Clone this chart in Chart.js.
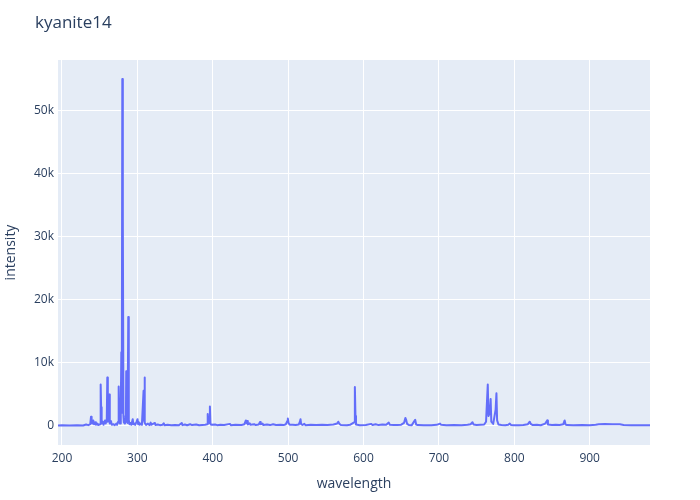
<!DOCTYPE html>
<html>
<head>
<meta charset="utf-8">
<script src="https://cdn.jsdelivr.net/npm/chart.js@4"></script>
<style>
  body { margin: 0; background: #fff; }
  #wrap { width: 700px; height: 500px; }
</style>
</head>
<body>
<div id="wrap"><canvas id="myChart" width="700" height="500"></canvas></div>
<script>
const chartTitle = "kyanite14";
const xTitle = "wavelength";
const yTitle = "intensity";
const xTicks = [200, 300, 400, 500, 600, 700, 800, 900];
const yTicks = [0, 10000, 20000, 30000, 40000, 50000];

// spectrum
const wavelength = [
  194.7, 200, 210, 220, 228, 232, 235, 237.5, 238.5, 239.3, 240, 241.5, 242.5, 244, 245, 247, 248,
  250.5, 251.3, 251.9, 252.6, 254, 255, 257, 258, 259.4, 260.1, 260.8, 261.8, 262.7, 263.4, 265, 266,
  268, 270, 272, 273, 274.5, 275.2, 275.9, 277, 278.0, 278.7, 279.3, 280.0, 280.5, 280.9, 281.5, 282,
  283.5, 284.8, 285.2, 285.9, 286.4, 287.0, 287.9, 288.6, 289.5, 291, 292, 293.8, 294.6, 296, 297,
  299, 300.2, 301, 302, 303, 305, 306, 308.2, 308.8, 309.4, 310.1, 311.5, 314, 316, 317.6, 318.4,
  320, 323.3, 324, 327, 330, 333.3, 334.9, 336, 340, 345, 350, 355, 358.8, 359.8, 363, 366, 370,
  372.5, 378, 382, 386, 390, 392.6, 393.3, 394.0, 395.6, 396.2, 396.9, 398, 403, 406, 410, 415,
  422.8, 424, 430, 438, 442, 443.9, 444.6, 445.5, 446.5, 449, 450, 455, 457, 461, 462.7, 463.6,
  466, 467, 472, 476, 480, 484, 490, 494, 497, 498.8, 499.6, 500.5, 502, 506, 510, 514, 515.6,
  516.4, 517.2, 519, 521.5, 523, 530, 537, 545, 552, 560, 565, 566.5, 568, 570, 578, 582, 587.5,
  588.5, 589.3, 590, 595, 603, 610, 612, 616, 620, 625, 630, 633.5, 635, 640, 645, 650, 653.7,
  655.5, 656.5, 657.8, 660, 664, 668.5, 669.8, 672, 680, 690, 697, 701.5, 703, 710, 720, 730, 738,
  742, 744.5, 746, 750, 755, 760, 762.5, 764.8, 765.7, 767.5, 768.6, 769.5, 772, 775.2, 776.3,
  777.2, 779, 783, 788, 792, 794, 795.5, 800, 806, 812, 818, 820.5, 821.8, 824, 830, 835, 841,
  843.6, 844.6, 850, 855, 860, 865, 866.8, 868, 870, 878, 890, 900, 908, 912, 920, 930, 940, 945,
  955, 965, 980
];
const intensity = [
  0, 20, 0, 30, 0, 150, 50, 200, 1400, 700, 300, 800, 200, 500, 100, 300, 80,
  200, 6500, 2900, 400, 600, 100, 800, 300, 1000, 7600, 600, 1200, 4900, 300, 700, 100,
  200, 50, 300, 100, 600, 6200, 500, 300, 3000, 11600, 2000, 55000, 9000, 32900, 1500, 500,
  300, 1200, 8600, 8400, 500, 400, 17200, 900, 200, 400, 100, 1000, 200, 300, 100,
  600, 1000, 200, 500, 100, 350, 100, 5500, 800, 7600, 400, 100, 300, 50, 450, 100,
  200, 400, 80, 150, 50, 100, 350, 50, 100, 30, 60, 40, 400, 50, 150, 30, 200,
  60, 150, 50, 80, 120, 200, 1800, 600, 400, 3000, 300, 100, 150, 50, 100, 60,
  250, 50, 100, 80, 200, 800, 400, 700, 150, 350, 100, 200, 60, 150, 550, 200,
  300, 80, 150, 60, 200, 80, 120, 60, 200, 700, 1100, 400, 100, 120, 60, 150, 600,
  1000, 200, 80, 250, 50, 100, 60, 100, 60, 150, 300, 600, 250, 80, 50, 100, 500,
  6100, 1500, 150, 50, 80, 250, 80, 200, 60, 150, 100, 450, 100, 80, 60, 120, 400,
  1200, 900, 250, 80, 50, 900, 150, 60, 50, 40, 100, 300, 100, 30, 60, 40, 120,
  200, 500, 150, 60, 100, 150, 600, 6500, 1500, 2000, 4200, 600, 250, 2500, 5100,
  800, 150, 80, 50, 100, 300, 80, 50, 40, 60, 200, 600, 250, 80, 100, 40, 300,
  800, 150, 60, 100, 80, 200, 800, 150, 60, 40, 60, 40, 100, 200, 220, 200, 180, 60,
  40, 50, 20
];

const points = wavelength.map(function (w, i) {
    return { x: w, y: intensity[i] };
});

const inkColor = "#2a3f5f";
const fontName = '"Open Sans", "Noto Sans", sans-serif';

const plotBackground = {
    id: "plotBackground",
    beforeDraw: function (chart) {
        const a = chart.chartArea;
        const ctx = chart.ctx;
        ctx.save();
        ctx.fillStyle = "#e5ecf6";
        ctx.fillRect(a.left, a.top, a.right - a.left, a.bottom - a.top);
        ctx.restore();
    },
    afterDraw: function (chart) {
        const ctx = chart.ctx;
        ctx.save();
        ctx.font = "17px " + fontName;
        ctx.fillStyle = inkColor;
        ctx.textBaseline = "middle";
        ctx.textAlign = "left";
        ctx.fillText(chartTitle, 35, 23);
        ctx.restore();
    }
};

new Chart("myChart", {
    type: "line",
    data: {
        datasets: [{
            data: points,
            borderColor: "#636efa",
            borderWidth: 2,
            borderJoinStyle: "round",
            pointRadius: 0,
            fill: false,
            tension: 0
        }]
    },
    options: {
        responsive: false,
        animation: false,
        devicePixelRatio: 1,
        layout: { padding: { top: 60, right: 50, left: 0, bottom: 0 } },
        plugins: {
            legend: { display: false },
            title: { display: false },
            tooltip: { enabled: false }
        },
        scales: {
            x: {
                type: "linear",
                min: 194.7,
                max: 980,
                afterBuildTicks: function (s) {
                    s.ticks = xTicks.map(function (v) { return { value: v }; });
                },
                afterFit: function (s) { s.height = 55; },
                grid: { color: "#ffffff", lineWidth: 1, drawTicks: false },
                border: { display: false },
                ticks: {
                    color: inkColor,
                    font: { family: fontName, size: 12 },
                    padding: 6,
                    maxRotation: 0
                },
                title: {
                    display: true,
                    text: xTitle,
                    color: inkColor,
                    font: { family: fontName, size: 14 },
                    padding: { top: 0, bottom: 8 }
                }
            },
            y: {
                type: "linear",
                min: -3100,
                max: 58000,
                afterBuildTicks: function (s) {
                    s.ticks = yTicks.map(function (v) { return { value: v }; });
                },
                afterFit: function (s) { s.width = 58; },
                grid: { color: "#ffffff", lineWidth: 1, drawTicks: false },
                border: { display: false },
                ticks: {
                    color: inkColor,
                    font: { family: fontName, size: 12 },
                    padding: 4,
                    callback: function (v) { return v === 0 ? "0" : (v / 1000) + "k"; }
                },
                title: {
                    display: true,
                    text: yTitle,
                    color: inkColor,
                    font: { family: fontName, size: 14 },
                    padding: { top: 3, bottom: 0 }
                }
            }
        }
    },
    plugins: [plotBackground]
});
</script>
</body>
</html>
